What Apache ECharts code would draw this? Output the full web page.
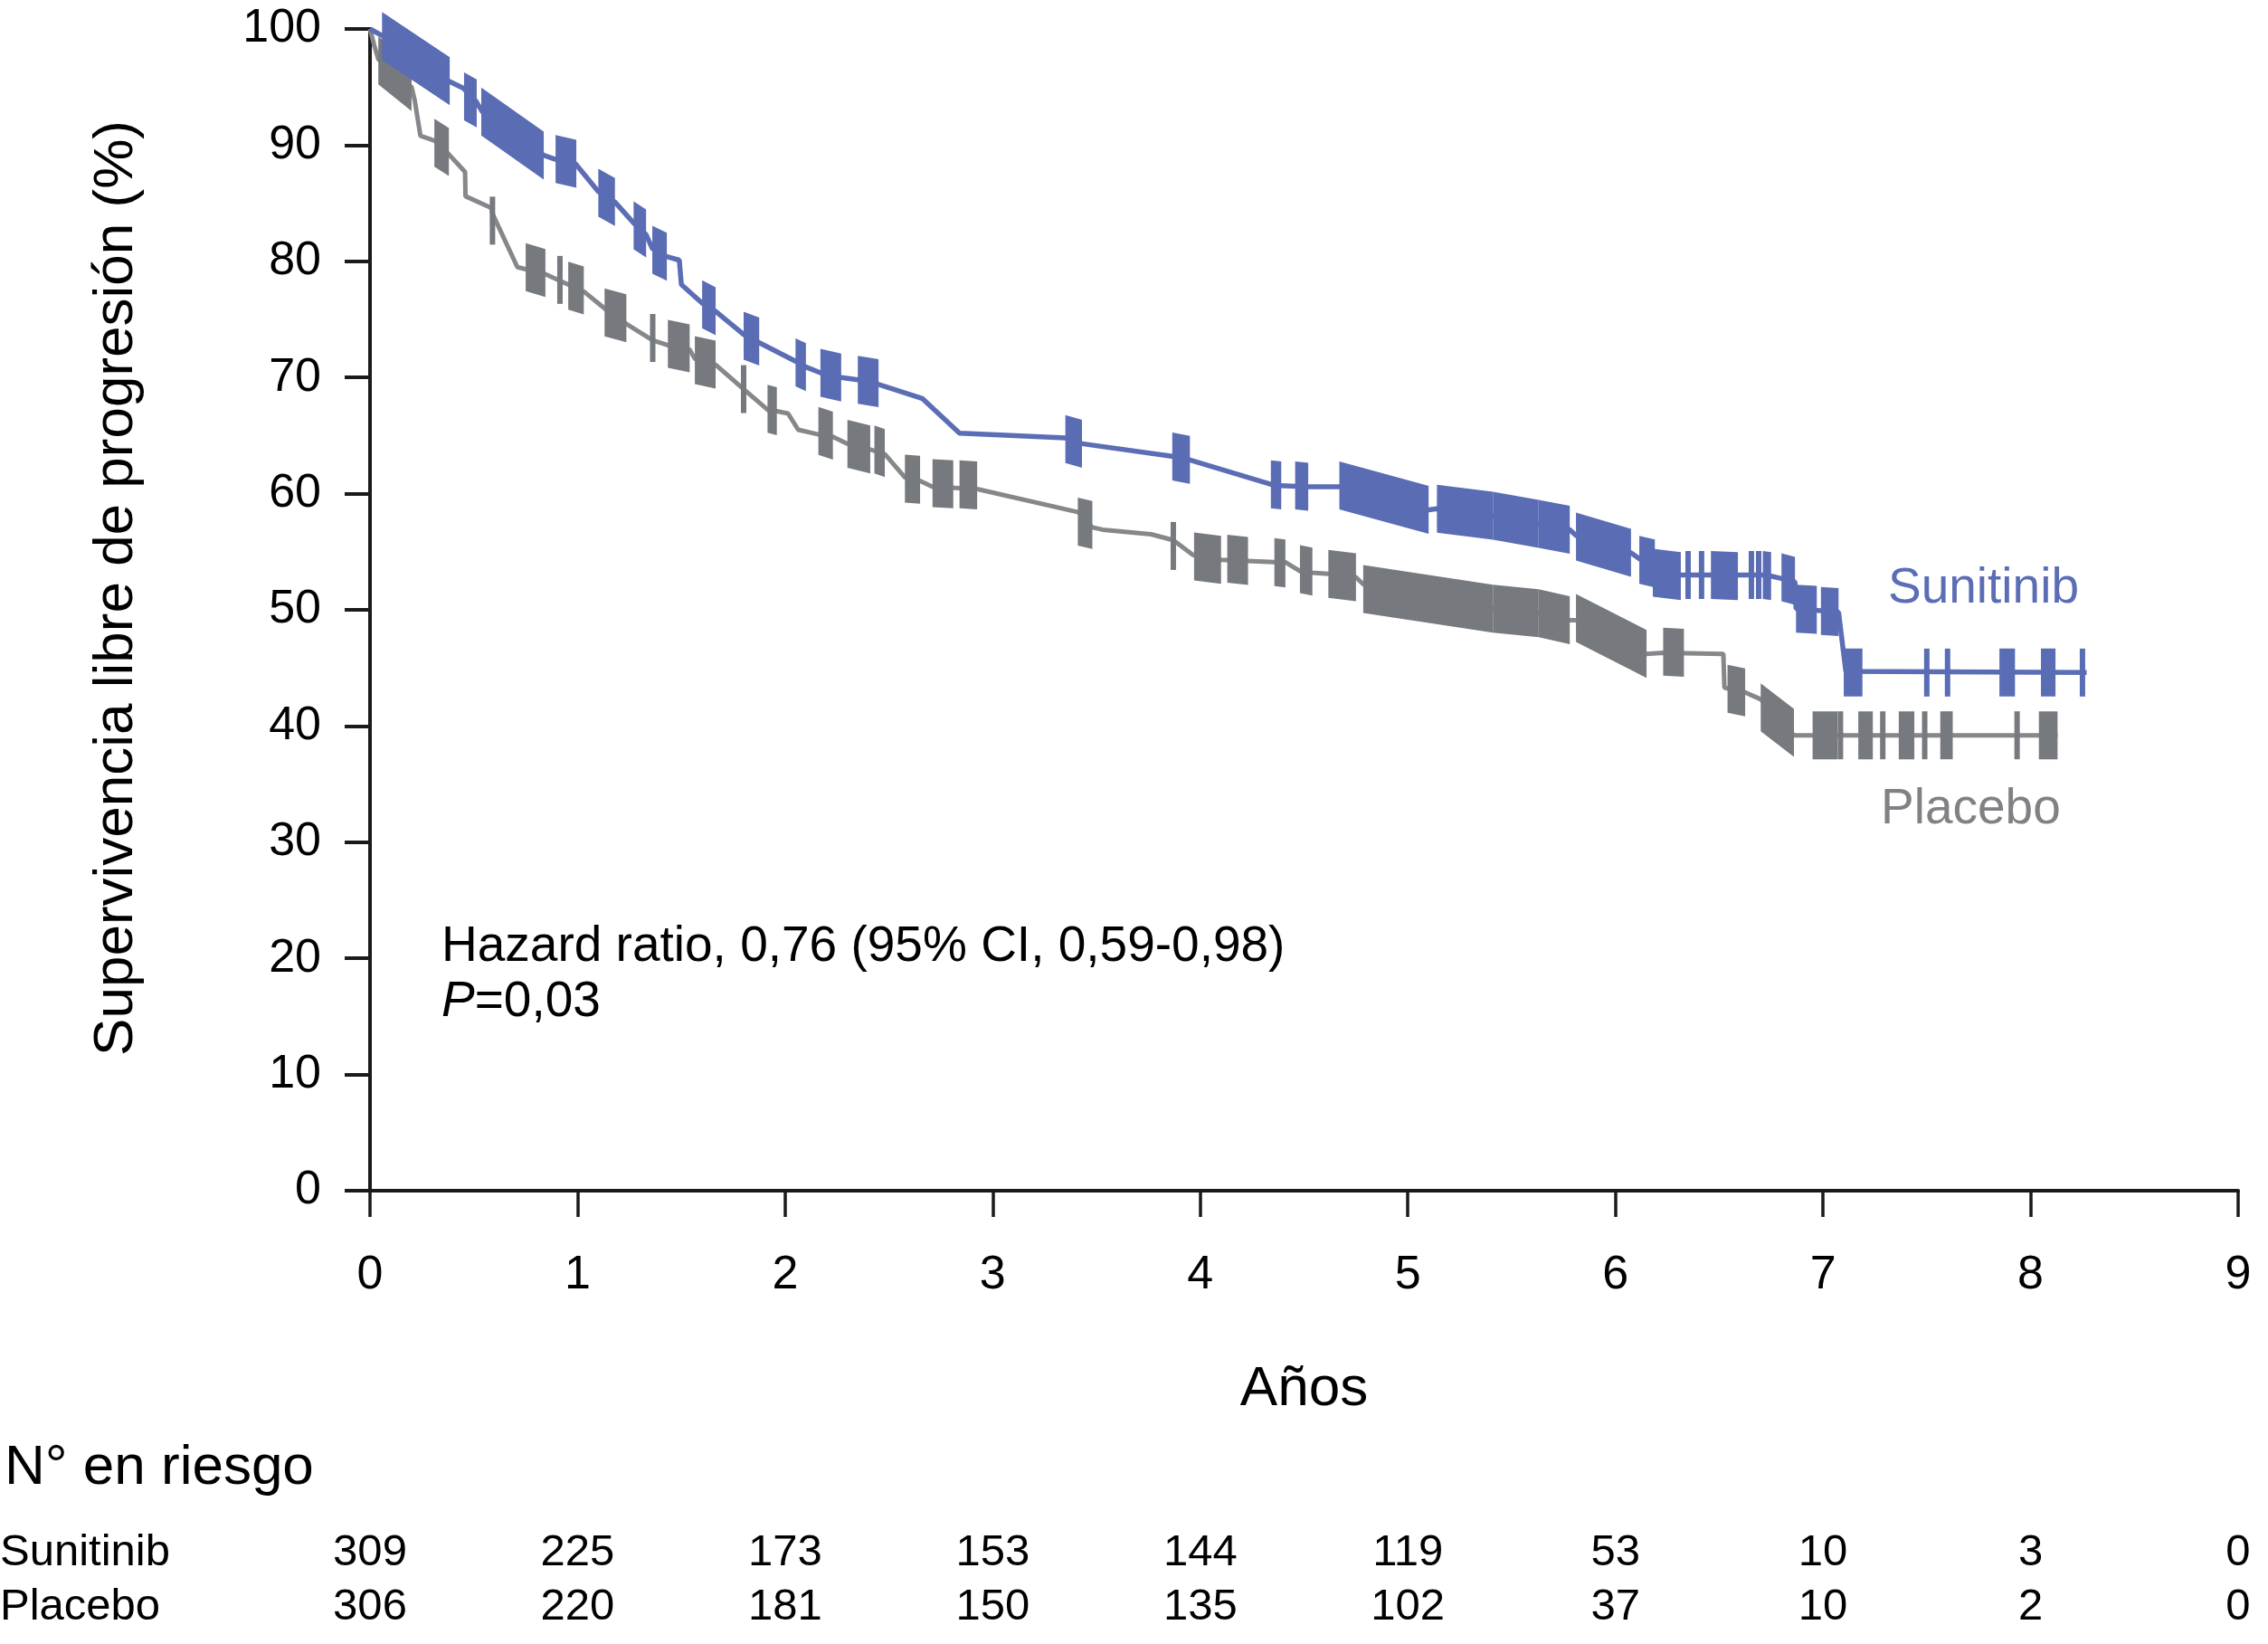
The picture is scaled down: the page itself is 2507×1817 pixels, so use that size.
<!DOCTYPE html>
<html>
<head>
<meta charset="utf-8">
<script src="https://cdn.jsdelivr.net/npm/echarts@6/dist/echarts.min.js"></script>
<style>
html,body{margin:0;padding:0;background:#fff;}
#chart{width:2507px;height:1817px;}
</style>
</head>
<body>
<div id="chart"></div>
<script>
// ---------- data ----------
const yearTicks = [0,1,2,3,4,5,6,7,8,9];

// Kaplan-Meier curve vertices [years, % progression-free]
const sunitinibCurve = [[0,100],[0.06,99.4],[0.38,95.5],[0.45,94.9],[0.51,93.8],[0.54,92.9],[0.84,89.1],[0.89,88.8],[0.99,88.4],[1.10,86.0],[1.18,85.1],[1.27,83.3],[1.33,82.3],[1.36,81.1],[1.43,80.4],[1.49,80.1],[1.50,78.0],[1.60,76.4],[1.665,75.7],[1.80,73.7],[1.875,73.0],[2.05,71.4],[2.10,70.9],[2.17,70.4],[2.27,70.0],[2.35,69.8],[2.45,69.4],[2.66,68.2],[2.84,65.2],[3.35,64.8],[3.43,64.3],[3.87,63.2],[3.95,62.9],[4.36,60.7],[4.52,60.6],[4.67,60.6],[5.10,58.6],[5.14,58.7],[5.41,58.1],[5.63,57.4],[5.78,56.9],[5.81,56.4],[6.075,54.9],[6.115,54.4],[6.19,54.0],[6.20,53.1],[6.315,53.0],[6.71,53.0],[6.75,52.9],[6.80,52.7],[6.865,52.4],[6.87,50.1],[7.075,49.8],[7.11,44.7],[8.27,44.6]];

const placeboCurve = [[0,100],[0.02,98.6],[0.04,97.4],[0.20,95.0],[0.215,93.9],[0.243,90.8],[0.31,90.4],[0.38,89.2],[0.458,87.7],[0.46,85.6],[0.584,84.6],[0.59,84.1],[0.71,79.5],[0.845,78.9],[0.955,78.0],[1.03,77.4],[1.14,75.8],[1.236,74.6],[1.362,73.2],[1.43,72.8],[1.54,72.4],[1.565,71.6],[1.665,71.1],[1.80,69.0],[1.917,67.2],[1.96,67.1],[2.014,66.9],[2.063,65.5],[2.16,65.1],[2.23,64.9],[2.30,64.3],[2.41,63.8],[2.48,63.4],[2.577,61.4],[2.65,61.1],[2.71,60.6],[2.925,60.4],[3.413,58.4],[3.48,57.1],[3.53,56.9],[3.763,56.5],[3.87,56.0],[3.967,54.7],[4.10,54.3],[4.357,54.1],[4.41,54.1],[4.483,53.3],[4.54,53.2],[4.617,53.1],[4.75,52.8],[4.785,52.2],[5.41,50.1],[5.63,49.7],[5.78,49.1],[5.81,49.1],[6.15,46.2],[6.23,46.3],[6.52,46.2],[6.525,43.3],[6.625,42.9],[6.70,42.3],[6.86,39.2],[8.13,39.2]];

// censored observations: runs of tick marks [startYear, startPct, endYear, endPct]
const sunitinibCensored = [[0.058,99.4,0.384,95.5],[0.453,94.2,0.514,93.6],[0.536,92.9,0.837,89.1],[0.894,88.8,0.994,88.4],[1.10,85.9,1.18,85.1],[1.27,83.1,1.33,82.4],[1.36,81.0,1.43,80.4],[1.60,76.3,1.665,75.7],[1.80,73.6,1.875,73.1],[2.05,71.3,2.10,70.9],[2.17,70.4,2.27,70.0],[2.35,69.8,2.45,69.5],[3.35,64.7,3.43,64.3],[3.865,63.2,3.95,62.9],[4.34,60.8,4.39,60.7],[4.457,60.7,4.52,60.6],[4.67,60.7,5.10,58.6],[5.14,58.7,5.41,58.1],[5.41,58.1,5.63,57.4],[5.63,57.4,5.78,56.9],[5.81,56.3,6.075,54.9],[6.115,54.3,6.19,54.0],[6.18,53.2,6.315,52.9],[6.35,53.0,6.35,53.0],[6.415,53.0,6.415,53.0],[6.46,53.0,6.59,52.9],[6.655,53.0,6.655,53.0],[6.69,53.0,6.69,53.0],[6.71,53.0,6.75,52.9],[6.80,52.8,6.865,52.5],[6.87,50.1,6.97,50.0],[6.99,49.9,7.075,49.8],[7.10,44.6,7.19,44.6],[7.50,44.6,7.50,44.6],[7.60,44.6,7.60,44.6],[7.85,44.6,7.925,44.6],[8.05,44.6,8.12,44.6],[8.25,44.6,8.25,44.6]];

const placeboCensored = [[0.04,97.3,0.20,95.0],[0.31,90.2,0.38,89.4],[0.59,83.5,0.59,83.5],[0.75,79.5,0.845,79.0],[0.915,78.4,0.915,78.4],[0.955,77.9,1.03,77.5],[1.13,75.6,1.235,75.1],[1.362,73.4,1.362,73.4],[1.435,72.9,1.54,72.5],[1.565,71.5,1.665,71.1],[1.80,69.0,1.80,69.0],[1.915,67.3,1.96,67.1],[2.16,65.4,2.23,65.0],[2.30,64.3,2.41,63.8],[2.43,63.8,2.48,63.5],[2.577,61.3,2.65,61.2],[2.71,60.9,2.81,60.8],[2.84,60.8,2.925,60.7],[3.41,57.6,3.48,57.3],[3.87,55.5,3.87,55.5],[3.97,54.6,4.10,54.3],[4.13,54.4,4.23,54.2],[4.357,54.1,4.41,54.0],[4.48,53.5,4.54,53.3],[4.617,53.1,4.75,52.8],[4.785,51.8,5.41,50.1],[5.41,50.1,5.63,49.7],[5.63,49.7,5.78,49.1],[5.81,49.3,6.15,46.2],[6.23,46.4,6.33,46.3],[6.54,43.2,6.625,42.9],[6.70,41.6,6.86,39.4],[6.95,39.2,7.07,39.2],[7.084,39.2,7.084,39.2],[7.17,39.2,7.24,39.2],[7.288,39.2,7.288,39.2],[7.365,39.2,7.44,39.2],[7.49,39.2,7.49,39.2],[7.565,39.2,7.625,39.2],[7.935,39.2,7.935,39.2],[8.04,39.2,8.13,39.2]];

// number at risk
const riskRows = ['Placebo','Sunitinib'];
const riskSunitinib = [309,225,173,153,144,119,53,10,3,0];
const riskPlacebo = [306,220,181,150,135,102,37,10,2,0];

// ---------- styling ----------
const FONT = '"Liberation Sans", Arial, Helvetica, sans-serif';
const BLUE = '#5a6cb4';
const BLUE_LINE = '#5b6db5';
const GRAY = '#76797e';
const GRAY_LINE = '#85878b';
const BLOCK_H = 53;
const TICK_W = 6;

function censorRenderer(color){
  return function(params, api){
    const p0 = api.coord([api.value(0), api.value(1)]);
    const p1 = api.coord([api.value(2), api.value(3)]);
    let x0 = p0[0], x1 = p1[0];
    if (x1 - x0 < TICK_W) { const c = (x0 + x1) / 2; x0 = c - TICK_W/2; x1 = c + TICK_W/2; }
    const h = BLOCK_H / 2;
    return {
      type: 'polygon',
      shape: { points: [[x0, p0[1]-h],[x1, p1[1]-h],[x1, p1[1]+h],[x0, p0[1]+h]] },
      style: { fill: color }
    };
  };
}

const chart = echarts.init(document.getElementById('chart'), null, {renderer:'canvas'});

const riskData = [];
yearTicks.forEach((t,i)=>{
  riskData.push([t,'Sunitinib',riskSunitinib[i]]);
  riskData.push([t,'Placebo',riskPlacebo[i]]);
});

chart.setOption({
  backgroundColor: '#fff',
  animation: false,
  textStyle: { fontFamily: FONT },
  grid: [
    { left: 409, top: 32, width: 2065, height: 1284, containLabel: false },
    { left: 409, top: 1686, width: 2065, height: 120, containLabel: false }
  ],
  xAxis: [
    {
      gridIndex: 0, type: 'value', min: 0, max: 9, interval: 1,
      axisLine: { lineStyle: { color: '#1a1a1a', width: 4 } },
      axisTick: { show: true, length: 29, lineStyle: { color: '#1a1a1a', width: 3.5 } },
      axisLabel: { fontSize: 52, color: '#000', margin: 68, fontFamily: FONT },
      splitLine: { show: false },
      name: 'Años', nameLocation: 'middle', nameGap: 189,
      nameTextStyle: { fontSize: 62, color: '#000', fontFamily: FONT }
    },
    { gridIndex: 1, type: 'value', min: 0, max: 9, show: false }
  ],
  yAxis: [
    {
      gridIndex: 0, type: 'value', min: 0, max: 100, interval: 10,
      axisLine: { show: true, lineStyle: { color: '#1a1a1a', width: 4 } },
      axisTick: { show: true, length: 28, lineStyle: { color: '#1a1a1a', width: 4 } },
      axisLabel: { fontSize: 52, color: '#000', margin: 54, fontFamily: FONT },
      splitLine: { show: false }
    },
    { gridIndex: 1, type: 'category', data: riskRows, show: false }
  ],
  series: [
    { type: 'line', name: 'Placebo', data: placeboCurve, xAxisIndex: 0, yAxisIndex: 0,
      showSymbol: false, lineStyle: { color: GRAY_LINE, width: 5 }, z: 2 },
    { type: 'line', name: 'Sunitinib', data: sunitinibCurve, xAxisIndex: 0, yAxisIndex: 0,
      showSymbol: false, lineStyle: { color: BLUE_LINE, width: 5.5 }, z: 3 },
    { type: 'custom', name: 'Placebo censored', data: placeboCensored, xAxisIndex: 0, yAxisIndex: 0,
      renderItem: censorRenderer(GRAY), z: 4 },
    { type: 'custom', name: 'Sunitinib censored', data: sunitinibCensored, xAxisIndex: 0, yAxisIndex: 0,
      renderItem: censorRenderer(BLUE), z: 5 },
    { type: 'scatter', data: riskData, xAxisIndex: 1, yAxisIndex: 1, symbolSize: 0,
      itemStyle: { color: '#000', opacity: 1 },
      label: { show: true, position: 'inside', formatter: p => String(p.value[2]),
               fontSize: 49, color: '#000', opacity: 1, textBorderWidth: 0, fontFamily: FONT } }
  ],
  graphic: [
    { type: 'text', x: 129, y: 650, rotation: Math.PI/2,
      style: { text: 'Supervivencia libre de progresión (%)', fontSize: 62, fontFamily: FONT, fill: '#000',
               textAlign: 'center', textVerticalAlign: 'middle' } },
    { type: 'text', x: 488, y: 1047,
      style: { text: 'Hazard ratio, 0,76 (95% CI, 0,59-0,98)', fontSize: 55, fontFamily: FONT, fill: '#000',
               textAlign: 'left', textVerticalAlign: 'middle' } },
    { type: 'text', x: 488, y: 1108,
      style: { text: '{i|P}=0,03', fontSize: 55, fontFamily: FONT, fill: '#000',
               textAlign: 'left', textVerticalAlign: 'middle',
               rich: { i: { fontStyle: 'italic', fontSize: 55, fontFamily: FONT, fill: '#000' } } } },
    { type: 'text', x: 2087, y: 651,
      style: { text: 'Sunitinib', fontSize: 55, fontFamily: FONT, fill: '#5b6db5',
               textAlign: 'left', textVerticalAlign: 'middle' } },
    { type: 'text', x: 2079, y: 895,
      style: { text: 'Placebo', fontSize: 55, fontFamily: FONT, fill: '#7f8185',
               textAlign: 'left', textVerticalAlign: 'middle' } },
    { type: 'text', x: 5, y: 1623,
      style: { text: 'N° en riesgo', fontSize: 62, fontFamily: FONT, fill: '#000',
               textAlign: 'left', textVerticalAlign: 'middle' } },
    { type: 'text', x: 0, y: 1716,
      style: { text: 'Sunitinib', fontSize: 49, fontFamily: FONT, fill: '#000',
               textAlign: 'left', textVerticalAlign: 'middle' } },
    { type: 'text', x: 0, y: 1776,
      style: { text: 'Placebo', fontSize: 49, fontFamily: FONT, fill: '#000',
               textAlign: 'left', textVerticalAlign: 'middle' } }
  ]
});
</script>
</body>
</html>
